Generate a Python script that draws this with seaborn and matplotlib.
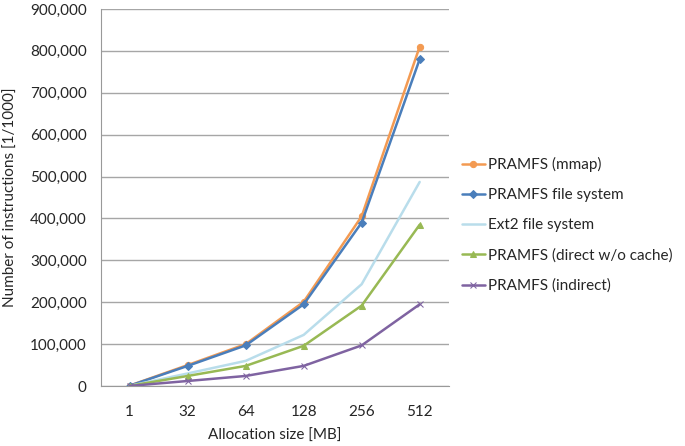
import matplotlib
matplotlib.use("Agg")
import matplotlib.pyplot as plt
import matplotlib.ticker as mticker
import seaborn as sns
import pandas as pd

sizes = ["1", "32", "64", "128", "256", "512"]
mmap = [1000, 50000, 100000, 201000, 405000, 810000]
pramfs_fs = [800, 48000, 97000, 195000, 390000, 780000]
ext2_fs = [500, 30000, 60000, 122000, 243000, 487000]
direct = [400, 24000, 48000, 96000, 192000, 385000]
indirect = [200, 12000, 24000, 48000, 97000, 195000]

series = ["PRAMFS (mmap)", "PRAMFS file system", "Ext2 file system",
          "PRAMFS (direct w/o cache)", "PRAMFS (indirect)"]
colors = ["#F39A52", "#4A7EBB", "#B9DDEB", "#98B954", "#7F63A1"]
markers = ["o", "D", "", "^", "x"]

rows = []
for name, vals in zip(series, [mmap, pramfs_fs, ext2_fs, direct, indirect]):
    for i, v in enumerate(vals):
        rows.append({"pos": i, "value": v, "series": name})
df = pd.DataFrame(rows)

sns.set_style("white")
plt.rcParams["font.family"] = ["Lato", "DejaVu Sans"]
fs = 11

fig = plt.figure(figsize=(6.85, 4.46), dpi=100)
ax = fig.add_axes([0.147, 0.1345, 0.508, 0.8455])

for name, c, m in zip(series, colors, markers):
    sub = df[df["series"] == name]
    sns.lineplot(data=sub, x="pos", y="value", color=c, marker=m if m else None,
                 markersize=4.5 if m != "x" else 5, markeredgecolor=c,
                 linewidth=1.8, label=name, ax=ax)

ax.set_xlim(-0.5, len(sizes) - 0.5)
ax.set_ylim(0, 900000)
ax.set_xticks(range(len(sizes)))
ax.set_xticklabels(sizes, fontsize=fs)
ax.xaxis.set_minor_locator(mticker.FixedLocator([i - 0.5 for i in range(len(sizes) + 1)]))
ax.tick_params(axis="x", which="major", length=0, pad=14)
ax.tick_params(axis="x", which="minor", length=6, color="#999999", direction="out")
ax.yaxis.set_major_locator(mticker.MultipleLocator(100000))
ax.yaxis.set_major_formatter(mticker.FuncFormatter(lambda v, p: f"{int(v):,}"))
ax.tick_params(axis="y", labelsize=fs, length=5, color="#999999", direction="out", pad=5)
ax.grid(axis="y", color="#A6A6A6", linewidth=1)
ax.set_axisbelow(True)
for s in ["top", "right"]:
    ax.spines[s].set_visible(False)
ax.spines["left"].set_color("#999999")
ax.spines["bottom"].set_color("#999999")

ax.set_xlabel("Allocation size [MB]", fontsize=fs, labelpad=7)
ax.set_ylabel("Number of instructions [1/1000]", fontsize=fs, labelpad=9)

ax.legend(loc="center left", bbox_to_anchor=(1.02, 0.427), frameon=False,
          fontsize=fs, handlelength=1.5, handletextpad=0.2, labelspacing=1.05,
          borderaxespad=0)

fig.savefig("out.png", dpi=100)
